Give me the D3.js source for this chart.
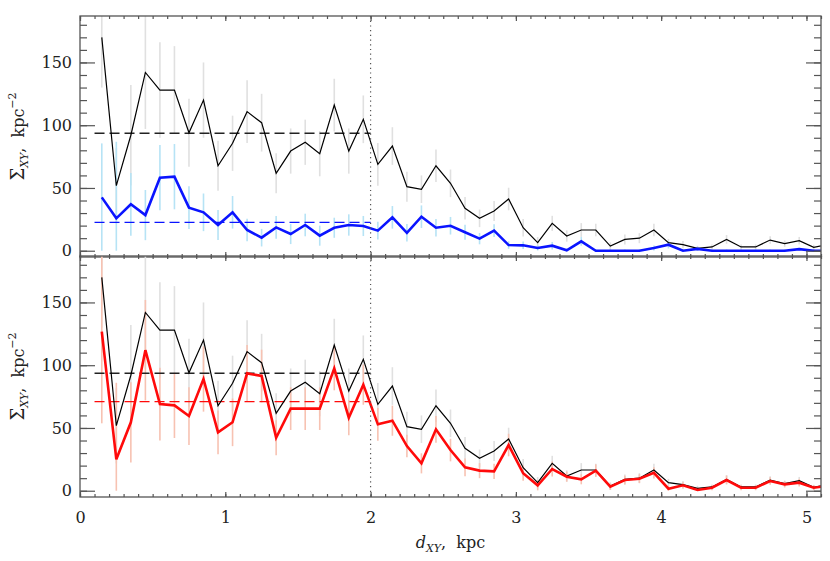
<!DOCTYPE html>
<html>
<head>
<meta charset="utf-8">
<script src="https://cdn.jsdelivr.net/npm/d3@7/dist/d3.min.js"></script>
<style>
  body { margin: 0; background: #fff; }
  svg { display: block; }
  .tick text { font-family: "DejaVu Serif", serif; font-size: 16px; fill: #222; }
  .tick line { stroke: #555; stroke-width: 1.2; }
  .title { font-family: "DejaVu Serif", serif; font-size: 16px; fill: #222; }
</style>
</head>
<body>
<div id="chart"></div>
<script>
// Distance bins, kpc
const dist = [0.15, 0.25, 0.35, 0.45, 0.55, 0.65, 0.75, 0.85, 0.95, 1.05,
              1.15, 1.25, 1.35, 1.45, 1.55, 1.65, 1.75, 1.85, 1.95, 2.05,
              2.15, 2.25, 2.35, 2.45, 2.55, 2.65, 2.75, 2.85, 2.95, 3.05,
              3.15, 3.25, 3.35, 3.45, 3.55, 3.65, 3.75, 3.85, 3.95, 4.05,
              4.15, 4.25, 4.35, 4.45, 4.55, 4.65, 4.75, 4.85, 4.95, 5.05,
              5.15];

// Surface density of all objects (black) and its error
const sigmaAll = [170, 51.8, 92, 142, 128, 128, 94, 120, 67.7, 85.6,
                  110.8, 102, 61.7, 79.4, 86.4, 77.3, 116, 79.4, 104.7, 68.8,
                  83.4, 51, 49, 67.7, 53.7, 33.8, 25.8, 31.6, 41.2, 18.3,
                  6.4, 21.8, 11.7, 16.5, 16.5, 3.7, 9, 10, 16.5, 6.4,
                  4.8, 1.9, 3, 9, 3, 3, 8.5, 5.6, 8, 2.7,
                  5];
const errAll = [40, 30, 40, 45, 38, 35, 27, 30, 20, 22,
                25, 23, 16, 18, 18, 18, 21, 18, 19, 17,
                15, 12, 11, 13, 11, 9, 7, 8, 9, 7,
                4.5, 6, 4.5, 5.5, 5, 3, 4, 4, 5, 3,
                3, 2, 2, 3.5, 2, 2, 3, 2.5, 3, 2,
                2];

// Blue subsample (top panel)
const sigmaBlue = [42.5, 25.8, 37, 28.4, 58.2, 59, 34.3, 30.6, 20.5, 30.6,
                   16.5, 10.4, 18.6, 13.3, 20.5, 12, 18.3, 20.5, 19.7, 16,
                   26.6, 14.3, 27.1, 18.3, 19.9, 14.7, 9.6, 16, 4.5, 4.3,
                   2.2, 4, 0.3, 7.5, 0, 0, 0, 0, 2.2, 4.8,
                   0, 1.5, 0, 0, 0, 0, 0, 0, 1.3, 0,
                   0];
const errBlue = [43, 61, 25, 20, 26, 26, 17, 15, 12, 13,
                 9, 7, 9, 8, 9, 8, 8, 8.5, 8, 7,
                 9, 7, 9, 7, 7, 6, 4.5, 5, 3, 3,
                 2, 3, 1.5, 3.5, 1, 1, 1, 1, 2, 3,
                 1, 1.5, 1, 1, 1, 1, 1, 1, 1, 1,
                 1];

// Red subsample (bottom panel)
const sigmaRed = [126.7, 25, 54.5, 112, 69, 68, 59.5, 89, 46.5, 54.5,
                  93.5, 91.4, 42.2, 65.4, 65.4, 65.4, 97.5, 58.2, 84.5, 52.9,
                  55.8, 35.6, 21.8, 48.9, 32.4, 18.6, 16, 15.4, 36.4, 13.9,
                  4.3, 17.3, 11.2, 9.1, 16, 3.2, 8.5, 9.6, 14.3, 1.6,
                  4.3, 0.6, 2.4, 8.5, 2.4, 2.4, 7.7, 5.1, 6.4, 2.4,
                  4];
const errRed = [73, 61, 32, 40, 29, 26, 23, 26, 17.5, 19,
                22.5, 21, 14, 17, 17, 17, 17.5, 14, 16, 13,
                12, 9, 8, 10.7, 9, 7, 6, 6, 9, 6,
                4, 6, 4, 4, 5, 2.5, 3.5, 3.5, 4.5, 2,
                2.5, 1.5, 2, 3.5, 2, 2, 3, 2.5, 3, 2,
                2.5];

// Mean levels inside the 2 kpc circle
const meanAll = 93.6;
const meanBlue = 22.6;
const meanRed = 71.0;
const meanRange = [0.1, 2.0];
const cutDist = 2.0;

const xMajor = [0, 1, 2, 3, 4, 5];
const xMinor = d3.range(0, 5.101, 0.1);
const yMajor = [0, 50, 100, 150];
const yMinor = d3.range(0, 181, 10);

const width = 830;
const height = 561;
const margin = {left: 80, right: 9};

const svg = d3.select("#chart")
    .append("svg")
    .attr("width", width)
    .attr("height", height);

const x = d3.scaleLinear().domain([0, 5.1]).range([margin.left, width - margin.right]);

const rows = dist.map((d, i) => ({
    d: d,
    all: sigmaAll[i], eAll: errAll[i],
    blue: sigmaBlue[i], eBlue: errBlue[i],
    red: sigmaRed[i], eRed: errRed[i]
}));

const panels = [
    {top: 16, bottom: 257, key: "blue", err: "eBlue", mean: meanBlue,
     color: "#0a14ff", errColor: "#b6e3f5", labels: false},
    {top: 256, bottom: 497, key: "red", err: "eRed", mean: meanRed,
     color: "#ff0a0a", errColor: "#f7c2b2", labels: true}
];

panels.forEach((p, pi) => {
    const y = d3.scaleLinear().domain([-5, 187]).range([p.bottom, p.top]);
    const g = svg.append("g");

    const clipId = "clip" + pi;
    svg.append("clipPath").attr("id", clipId)
        .append("rect")
        .attr("x", x(0)).attr("y", p.top)
        .attr("width", x(5.1) - x(0)).attr("height", p.bottom - p.top);

    const plot = g.append("g").attr("clip-path", `url(#${clipId})`);

    // Error bars: all objects first, then the subsample
    plot.selectAll("line.errall")
        .data(rows)
        .enter()
        .append("line")
        .attr("class", "errall")
        .attr("x1", d => x(d.d)).attr("x2", d => x(d.d))
        .attr("y1", d => y(d.all + d.eAll))
        .attr("y2", d => y(Math.max(0, d.all - d.eAll)))
        .attr("stroke", "#e0e0e0")
        .attr("stroke-width", 1.6);

    plot.selectAll("line.errsub")
        .data(rows)
        .enter()
        .append("line")
        .attr("class", "errsub")
        .attr("x1", d => x(d.d)).attr("x2", d => x(d.d))
        .attr("y1", d => y(d[p.key] + d[p.err]))
        .attr("y2", d => y(Math.max(0, d[p.key] - d[p.err])))
        .attr("stroke", p.errColor)
        .attr("stroke-width", 1.6);

    // Mean levels
    plot.append("line")
        .attr("x1", x(meanRange[0])).attr("x2", x(meanRange[1]))
        .attr("y1", y(meanAll)).attr("y2", y(meanAll))
        .attr("stroke", "#222")
        .attr("stroke-width", 1.3)
        .attr("stroke-dasharray", "10,5");

    plot.append("line")
        .attr("x1", x(meanRange[0])).attr("x2", x(meanRange[1]))
        .attr("y1", y(p.mean)).attr("y2", y(p.mean))
        .attr("stroke", p.color)
        .attr("stroke-width", 1.3)
        .attr("stroke-dasharray", "10,5");

    // Profiles
    const lineAll = d3.line().x(d => x(d.d)).y(d => y(d.all));
    const lineSub = d3.line().x(d => x(d.d)).y(d => y(d[p.key]));

    plot.append("path")
        .datum(rows)
        .attr("d", lineAll)
        .attr("fill", "none")
        .attr("stroke", "#000")
        .attr("stroke-width", 1.2);

    plot.append("path")
        .datum(rows)
        .attr("d", lineSub)
        .attr("fill", "none")
        .attr("stroke", p.color)
        .attr("stroke-width", 2.6)
        .attr("stroke-linejoin", "miter");

    // Frame
    g.append("rect")
        .attr("x", x(0)).attr("y", p.top)
        .attr("width", x(5.1) - x(0)).attr("height", p.bottom - p.top)
        .attr("fill", "none")
        .attr("stroke", "#555")
        .attr("stroke-width", 1.3);

    // Ticks (pointing inward on all four sides)
    const addAxis = (axis, transform, showLabels) => {
        const a = g.append("g").attr("transform", transform).call(axis);
        a.select(".domain").remove();
        if (!showLabels) a.selectAll("text").remove();
        return a;
    };

    addAxis(d3.axisLeft(y).tickValues(yMinor).tickSize(-7).tickFormat(""), `translate(${x(0)},0)`, false);
    addAxis(d3.axisLeft(y).tickValues(yMajor).tickSize(-15).tickPadding(8), `translate(${x(0)},0)`, true);
    addAxis(d3.axisRight(y).tickValues(yMinor).tickSize(-7).tickFormat(""), `translate(${x(5.1)},0)`, false);
    addAxis(d3.axisRight(y).tickValues(yMajor).tickSize(-15).tickFormat(""), `translate(${x(5.1)},0)`, false);

    addAxis(d3.axisTop(x).tickValues(xMinor).tickSize(-3).tickFormat(""), `translate(0,${p.top})`, false);
    addAxis(d3.axisTop(x).tickValues(xMajor).tickSize(-5).tickFormat(""), `translate(0,${p.top})`, false);
    addAxis(d3.axisBottom(x).tickValues(xMinor).tickSize(-3).tickFormat(""), `translate(0,${p.bottom})`, false);
    addAxis(d3.axisBottom(x).tickValues(xMajor).tickSize(-5).tickPadding(15).tickFormat(d3.format("d")),
        `translate(0,${p.bottom})`, p.labels);

    // Y title
    const yt = svg.append("text")
        .attr("class", "title")
        .attr("transform", `translate(24,${(p.top + p.bottom) / 2}) rotate(-90)`)
        .attr("text-anchor", "middle");
    yt.append("tspan").attr("font-size", "18px").text("Σ");
    yt.append("tspan").attr("font-style", "italic").attr("font-size", "11px").attr("dy", 4).text("XY");
    yt.append("tspan").attr("dy", -4).text(",\u00a0\u00a0kpc");
    yt.append("tspan").attr("font-size", "11px").attr("dy", -8).text("−2");
});

// Dotted line at 2 kpc across both panels
svg.append("line")
    .attr("x1", x(cutDist)).attr("x2", x(cutDist))
    .attr("y1", 16).attr("y2", 497)
    .attr("stroke", "#555")
    .attr("stroke-width", 1.2)
    .attr("stroke-dasharray", "1.2,3.5");

// X title
const xt = svg.append("text")
    .attr("class", "title")
    .attr("x", (x(0) + x(5.1)) / 2)
    .attr("y", 548)
    .attr("text-anchor", "middle");
xt.append("tspan").attr("font-style", "italic").text("d");
xt.append("tspan").attr("font-style", "italic").attr("font-size", "11px").attr("dy", 4).text("XY");
xt.append("tspan").attr("dy", -4).text(",\u00a0\u00a0kpc");
</script>
</body>
</html>
